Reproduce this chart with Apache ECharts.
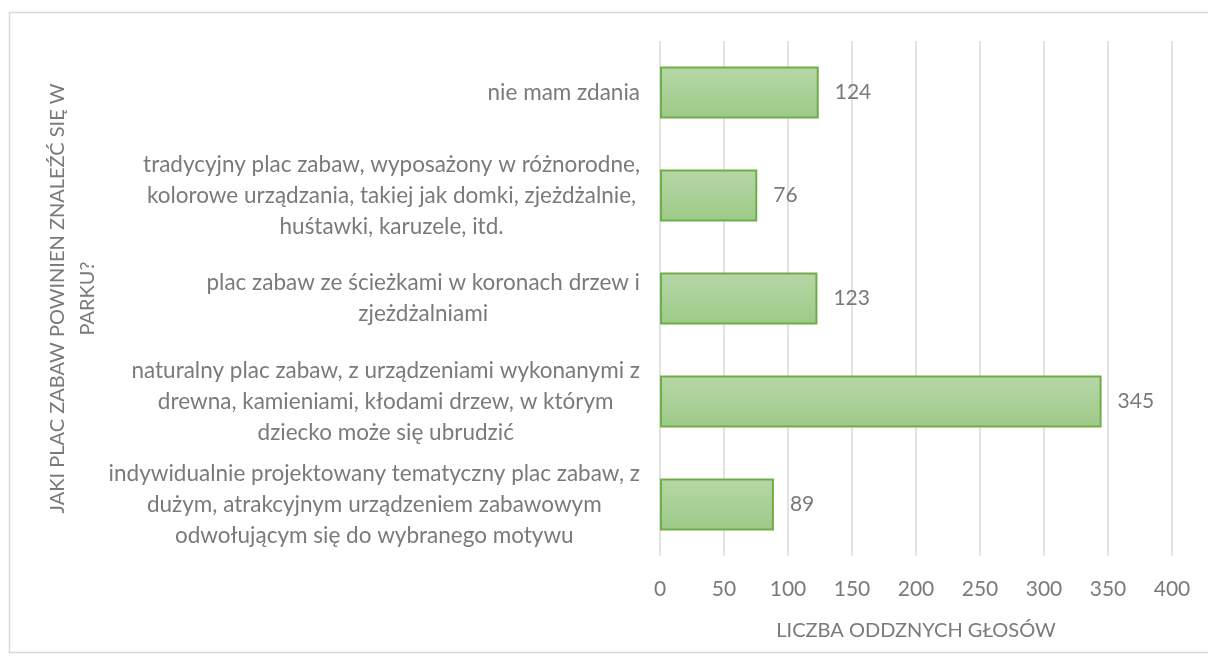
<!DOCTYPE html>
<html>
<head>
<meta charset="utf-8">
<script src="https://cdn.jsdelivr.net/npm/echarts@6/dist/echarts.min.js"></script>
<style>
  html, body { margin: 0; padding: 0; background: #ffffff; }
  #chart { width: 1208px; height: 664px; }
</style>
</head>
<body>
<div id="chart"></div>
<script>
const categories = [
  'nie mam zdania',
  'tradycyjny plac zabaw, wyposażony w różnorodne,\nkolorowe urządzania, takiej jak domki, zjeżdżalnie,\nhuśtawki, karuzele, itd.',
  'plac zabaw ze ścieżkami w koronach drzew i\nzjeżdżalniami',
  'naturalny plac zabaw, z urządzeniami wykonanymi z\ndrewna, kamieniami, kłodami drzew, w którym\ndziecko może się ubrudzić',
  'indywidualnie projektowany tematyczny plac zabaw, z\ndużym, atrakcyjnym urządzeniem zabawowym\nodwołującym się do wybranego motywu'
];
const votes = [124, 76, 123, 345, 89];
const xTicks = { min: 0, max: 400, interval: 50 };
const xTitle = 'LICZBA ODDZNYCH GŁOSÓW';
const yTitle = 'JAKI PLAC ZABAW POWINIEN ZNALEŹĆ SIĘ W\nPARKU?';

const FONT = 'Lato';
const TXT = '#7a7a7a';

const chart = echarts.init(document.getElementById('chart'), null, { renderer: 'canvas' });
chart.setOption({
  backgroundColor: '#ffffff',
  animation: false,
  textStyle: { fontFamily: FONT },
  graphic: [{
    type: 'rect',
    shape: { x: 9.5, y: 12.5, width: 1210, height: 640 },
    style: { fill: 'none', stroke: '#d9d9d9', lineWidth: 1.5 },
    silent: true
  }],
  grid: { left: 660, right: 36, top: 41, bottom: 108, containLabel: false },
  xAxis: {
    type: 'value',
    min: xTicks.min, max: xTicks.max, interval: xTicks.interval,
    axisLine: { show: false },
    axisTick: { show: false },
    splitLine: { show: true, lineStyle: { color: '#d9d9d9', width: 1.5 } },
    axisLabel: { color: TXT, fontSize: 21, fontFamily: FONT, margin: 23 },
    name: xTitle,
    nameLocation: 'middle',
    nameGap: 65,
    nameTextStyle: { color: TXT, fontSize: 20, fontFamily: FONT }
  },
  yAxis: {
    type: 'category',
    inverse: true,
    data: categories,
    axisLine: { show: false },
    axisTick: { show: false },
    splitLine: { show: false },
    axisLabel: {
      margin: 20,
      fontFamily: FONT,
      formatter: function (v) {
        return v.split('\n').map(function (l) { return '{c|' + l + '}'; }).join('\n');
      },
      rich: {
        c: { align: 'center', color: TXT, fontSize: 22.5, fontFamily: FONT, lineHeight: 31 }
      }
    },
    name: yTitle,
    nameLocation: 'middle',
    nameRotate: 90,
    nameGap: 557,
    nameTextStyle: { color: TXT, fontSize: 20, fontFamily: FONT, lineHeight: 30, align: 'center' }
  },
  series: [{
    type: 'bar',
    data: votes,
    barWidth: 52,
    itemStyle: {
      color: new echarts.graphic.LinearGradient(0, 0, 0, 1, [
        { offset: 0, color: '#b6d7a8' },
        { offset: 1, color: '#9dca87' }
      ]),
      borderColor: '#70ad47',
      borderWidth: 2
    },
    label: {
      show: true,
      position: 'right',
      distance: 16,
      color: TXT,
      fontSize: 21,
      fontFamily: FONT
    }
  }]
});
</script>
</body>
</html>
